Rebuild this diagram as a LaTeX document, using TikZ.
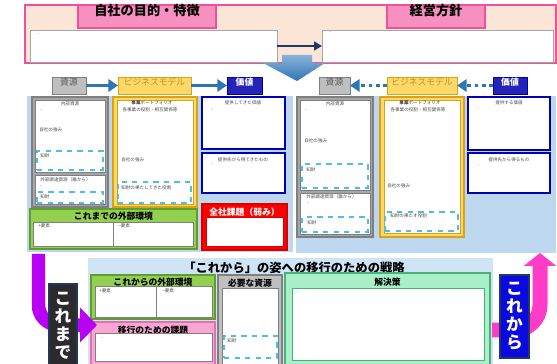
\documentclass[tikz,border=0pt]{standalone}
\usepackage{fontspec}
\setmainfont{Noto Sans CJK JP}
\usetikzlibrary{arrows.meta,fit,positioning}

\definecolor{peach}{HTML}{FBE5D6}
\definecolor{rosebd}{HTML}{F0509A}
\definecolor{rosefill}{HTML}{F78FC0}
\definecolor{panelblue}{HTML}{BDD7EE}
\definecolor{panelpale}{HTML}{CFE5F6}
\definecolor{arrowblue}{HTML}{2E75B6}
\definecolor{navy}{HTML}{203864}
\definecolor{graylbl}{HTML}{BFBFBF}
\definecolor{grayfill}{HTML}{A6A6A6}
\definecolor{graybd}{HTML}{7F7F7F}
\definecolor{gold}{HTML}{FFD966}
\definecolor{goldbd}{HTML}{D9A21B}
\definecolor{bmtext}{HTML}{C98A2A}
\definecolor{valblue}{HTML}{2424B8}
\definecolor{valbd}{HTML}{0000B0}
\definecolor{envgreen}{HTML}{92D050}
\definecolor{envbd}{HTML}{5E9E2E}
\definecolor{mint}{HTML}{A8F0C8}
\definecolor{mintbd}{HTML}{4CAF78}
\definecolor{pinkbox}{HTML}{F9A6D2}
\definecolor{pinkbd}{HTML}{E070B0}
\definecolor{dashcyan}{HTML}{4BC0E0}
\definecolor{pastviolet}{RGB}{185,0,245}
\definecolor{hotpink}{RGB}{255,60,200}
\definecolor{darkslate}{HTML}{2B2B2B}
\definecolor{boldblue}{HTML}{0A0AE0}

\begin{document}
\begin{tikzpicture}
	[x=0.02cm,y=-0.02cm,
	frame/.style={rectangle,inner sep=0pt,outer sep=0pt},
	blank/.style={frame,fill=white,draw=graybd,line width=0.3pt},
	ipbox/.style={frame,fill=white,draw=dashcyan,dashed,line width=0.6pt},
	valbox/.style={frame,fill=white,draw=valbd,line width=1.6pt},
	title/.style={font=\fontsize{7.5}{8}\selectfont\bfseries},
	lbl/.style={font=\fontsize{5}{6}\selectfont},
	hdr/.style={font=\fontsize{5}{6}\selectfont\bfseries,inner sep=0pt},
	tiny/.style={font=\fontsize{2.6}{3}\selectfont,text=black!70,inner sep=0pt},
	flow/.style={arrowblue,line width=2pt,-{Triangle[width=7pt,length=5.5pt]}},
	back/.style={arrowblue,line width=2.2pt,dash pattern=on 2pt off 2.2pt,
		-{Triangle[width=7pt,length=5.5pt]}}]
	\useasboundingbox (0,0) rectangle (557,364);

	\node[frame,fill=peach,draw=rosebd,line width=1pt,fit={(25,5) (556,63)}] (topframe) {};
	\node[frame,fill=rosefill,draw=rosebd,line width=0.8pt,title,fit={(78,5) (216,28)}] (goalT) {自社の目的・特徴};
	\node[frame,fill=rosefill,draw=rosebd,line width=0.8pt,title,fit={(387,5) (485,28)}] (policyT) {経営方針};
	\node[blank,draw=black!35,fit={(30,30) (277,62)}] (goalB) {};
	\node[blank,draw=black!35,fit={(322,30) (553,62)}] (policyB) {};
	\node[tiny] at (38,35) {-};
	\node[tiny] at (330,33) {-};
	\draw[navy,line width=1.2pt,-{Triangle[width=5pt,length=4.5pt]}] (goalB) -- (policyB);
	\shade[top color=arrowblue!55,bottom color=arrowblue]
		(282,55) -- (312,55) -- (312,63) -- (325,63) -- (297,81) -- (263,63) -- (282,63) -- cycle;

	\node[frame,fill=panelblue,fit={(27,96) (293,252)}] (panelA) {};
	\node[frame,fill=panelblue,fit={(296,96) (556,253)}] (panelB) {};
	\node[frame,fill=panelpale,fit={(88,258) (493,366)}] (panelC) {};

	\node[frame,fill=graylbl,draw=graybd,lbl,text=black!65,fit={(52,77) (86,94)}] (resLA) {資源};
	\node[frame,fill=gold,draw=goldbd,lbl,text=bmtext,fit={(118,77) (191,94)}] (bmLA) {ビジネスモデル};
	\node[frame,fill=valblue,draw=valbd,lbl,text=white,font=\fontsize{5}{6}\selectfont\bfseries,fit={(227,77) (262,94)}] (valLA) {価値};
	\node[frame,fill=graylbl,draw=graybd,lbl,text=black!65,fit={(319,77) (350,94)}] (resLB) {資源};
	\node[frame,fill=gold,draw=goldbd,lbl,text=bmtext,fit={(387,77) (457,94)}] (bmLB) {ビジネスモデル};
	\node[frame,fill=valblue,draw=valbd,lbl,text=white,font=\fontsize{5}{6}\selectfont\bfseries,fit={(493,77) (527,94)}] (valLB) {価値};
	\foreach \a/\b in {resLA/bmLA,bmLA/valLA}
		\draw[flow] (\a) -- (\b);
	\foreach \a/\b in {bmLB/resLB,valLB/bmLB}
		\draw[back] (\a) -- (\b);

	% これまで
	\node[frame,fill=grayfill,draw=graybd,line width=0.8pt,fit={(32,97) (108,207)}] (resA) {};
	\node[blank,fit={(35,100) (105,172)}] (resA1) {};
	\node[blank,fit={(35,175) (105,204)}] (resA2) {};
	\node[ipbox,fit={(37,151) (103,170)}] (ipA1) {};
	\node[ipbox,fit={(37,192) (103,203)}] (ipA2) {};
	\node[tiny] at (70,104) {内部資源};
	\node[tiny] at (41,111) {-};
	\node[tiny,anchor=west] at (39,130) {自社の強み};
	\node[tiny,anchor=west] at (40,156) {知財};
	\node[tiny,anchor=west] at (40,180) {外部調達資源（誰から）};
	\node[tiny] at (41,187) {-};
	\node[tiny,anchor=west] at (40,197) {知財};

	\node[frame,fill=gold,draw=goldbd,line width=0.8pt,fit={(113,97) (197,207)}] (bmA) {};
	\node[blank,draw=goldbd,fit={(117,100) (193,204)}] (bmA1) {};
	\node[ipbox,fit={(118,182) (191,203)}] (ipA3) {};
	\node[tiny] at (152,103) {{\bfseries 事業}ポートフォリオ};
	\node[tiny] at (150,110) {各事業の役割・相互関係等};
	\node[tiny,anchor=west] at (121,160) {自社の強み};
	\node[tiny,anchor=west] at (121,188) {知財の果たしてきた役割};

	\node[valbox,fit={(202,97) (285,149)}] (valA1) {};
	\node[valbox,fit={(202,153) (285,193)}] (valA2) {};
	\node[tiny] at (243,103) {提供してきた価値};
	\node[tiny] at (212,110) {-};
	\node[tiny] at (243,160) {提供先から得てきたもの};
	\node[tiny] at (212,165) {-};

	\node[frame,fill=envgreen,draw=envbd,line width=0.6pt,fit={(30,209) (197,249)}] (envA) {};
	\node[hdr,below=1.6pt of envA.north] {これまでの外部環境};
	\node[blank,fit={(33,222) (113,246)}] (envA1) {};
	\node[blank,fit={(113,222) (193,246)}] (envA2) {};
	\node[tiny,anchor=west] at (38,226) {+要素};
	\node[tiny,anchor=west] at (118,226) {−要素};

	\node[frame,fill=red,draw=red!85!black,line width=0.6pt,fit={(202,204) (287,250)}] (issueA) {};
	\node[hdr,text=white,below=2pt of issueA.north] {全社課題（弱み）};
	\node[blank,draw=red!85!black,fit={(206,217) (283,246)}] (issueA1) {};
	\node[tiny] at (213,221) {-};

	% これから
	\node[frame,fill=grayfill,draw=graybd,line width=0.8pt,fit={(297,97) (373,237)}] (resB) {};
	\node[blank,fit={(300,100) (370,190)}] (resB1) {};
	\node[blank,fit={(300,193) (370,234)}] (resB2) {};
	\node[ipbox,fit={(302,164) (368,188)}] (ipB1) {};
	\node[ipbox,fit={(302,217) (368,232)}] (ipB2) {};
	\node[tiny] at (335,104) {内部資源};
	\node[tiny] at (306,111) {-};
	\node[tiny,anchor=west] at (304,141) {自社の強み};
	\node[tiny,anchor=west] at (306,170) {知財};
	\node[tiny,anchor=west] at (306,197) {外部調達資源（誰から）};
	\node[tiny] at (308,204) {-};
	\node[tiny,anchor=west] at (307,223) {知財};

	\node[frame,fill=gold,draw=goldbd,line width=0.8pt,fit={(380,97) (464,237)}] (bmB) {};
	\node[blank,draw=goldbd,fit={(384,100) (460,233)}] (bmB1) {};
	\node[ipbox,fit={(385,212) (458,231)}] (ipB3) {};
	\node[tiny] at (420,103) {{\bfseries 事業}ポートフォリオ};
	\node[tiny] at (418,110) {各事業の役割・相互関係等};
	\node[tiny,anchor=west] at (387,186) {自社の強み};
	\node[tiny,anchor=west] at (390,216) {知財の果たす役割};

	\node[valbox,fit={(468,97) (550,150)}] (valB1) {};
	\node[valbox,fit={(468,153) (550,193)}] (valB2) {};
	\node[tiny] at (509,103) {提供する価値};
	\node[tiny] at (478,110) {-};
	\node[tiny] at (509,160) {提供先から得るもの};
	\node[tiny] at (478,166) {-};

	% 移行のための戦略
	\node[font=\fontsize{7}{8}\selectfont\bfseries,inner sep=0pt] (strategy) at (294,268) {「これから」の姿への移行のための戦略};

	\node[frame,fill=envgreen,draw=envbd,line width=0.6pt,fit={(91,275) (215,319)}] (envB) {};
	\node[hdr,below=1.6pt of envB.north] {これからの外部環境};
	\node[blank,fit={(95,286) (156,317)}] (envB1) {};
	\node[blank,fit={(156,286) (212,317)}] (envB2) {};
	\node[tiny,anchor=west] at (99,291) {+要素};
	\node[tiny,anchor=west] at (162,291) {−要素};

	\node[frame,fill=pinkbox,draw=pinkbd,line width=0.6pt,fit={(91,322) (215,366)}] (transit) {};
	\node[hdr,below=2pt of transit.north] {移行のための課題};
	\node[blank,fit={(95,333) (212,361)}] (transit1) {};
	\node[tiny] at (102,339) {-};

	\node[frame,fill=graylbl,draw=graybd,line width=0.8pt,fit={(218,275) (282,366)}] (needs) {};
	\node[hdr,below=2pt of needs.north] {必要な資源};
	\node[blank,fit={(222,288) (278,366)}] (needs1) {};
	\node[ipbox,fit={(224,336) (277,358)}] (ipC) {};
	\node[tiny] at (229,293) {-};
	\node[tiny,anchor=west] at (227,341) {知財};

	\node[frame,fill=mint,draw=mintbd,line width=0.6pt,fit={(285,273) (490,366)}] (solve) {};
	\node[hdr,below=2.5pt of solve.north] {解決策};
	\node[blank,draw=mintbd,fit={(292,288) (484,360)}] (solve1) {};
	\node[tiny] at (298,293) {-};

	\coordinate (pastTop) at (38.5,254);
	\coordinate (pastEnd) at (97,325);
	\draw[pastviolet,line width=0.27cm,rounded corners=0.4cm,-{Triangle[width=0.68cm,length=0.34cm]}]
		(pastTop) |- (pastEnd);
	\coordinate (nextStart) at (492,330);
	\coordinate (nextTop) at (540,253);
	\draw[hotpink,line width=0.3cm,rounded corners=0.5cm,-{Triangle[width=0.64cm,length=0.26cm]}]
		(nextStart) -| (nextTop);

	\node[frame,fill=darkslate,draw=navy,line width=0.8pt,fit={(49,284) (77,366)}] (pastbox) {};
	\node[font=\fontsize{9.5}{10.2}\selectfont\bfseries,text=white,align=center,inner sep=0pt]
		at (63,326) {こ\\れ\\ま\\で};
	\node[frame,fill=boldblue,draw=navy,line width=0.8pt,fit={(500,275) (529,358)}] (nextbox) {};
	\node[font=\fontsize{9.5}{10.2}\selectfont\bfseries,text=white,align=center,inner sep=0pt]
		at (514.5,316) {こ\\れ\\か\\ら};
\end{tikzpicture}
\end{document}
